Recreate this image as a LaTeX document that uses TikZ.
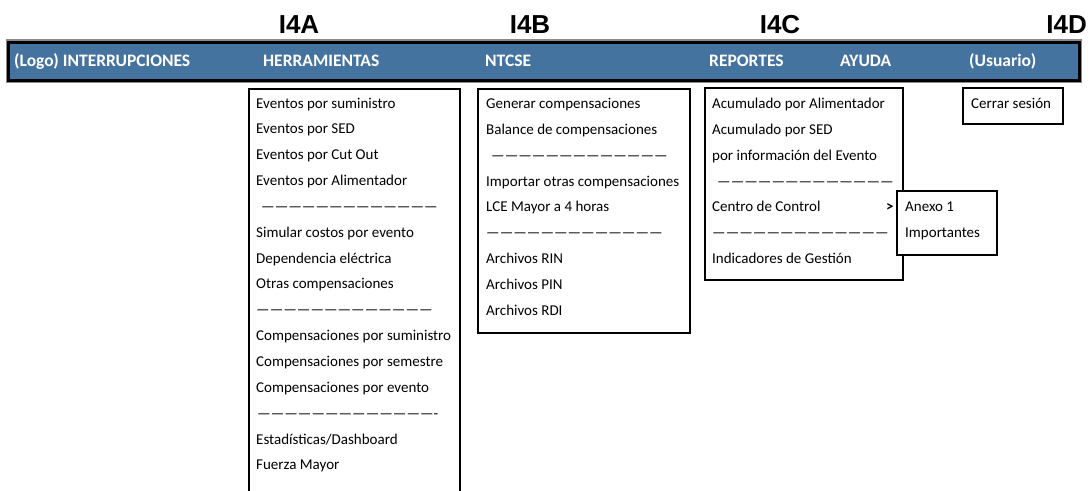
\documentclass[tikz,border=0pt]{standalone}
\usepackage{fontspec}
\setmainfont{Carlito}
\newfontfamily\headfont{Liberation Sans}
\definecolor{barblue}{HTML}{4573A0}
\definecolor{bargrey}{HTML}{8A8A8A}
\newcommand{\itemfont}{\fontsize{15}{18}\selectfont}
\newcommand{\barfont}{\bfseries\fontsize{17.5}{20}\selectfont}
\newcommand{\sepline}{—————————————}
\begin{document}
\begin{tikzpicture}[x=1pt,y=-1pt,
  item/.style={anchor=base west, inner sep=0pt, font=\itemfont},
  barlabel/.style={anchor=base west, inner sep=0pt, text=white, font=\barfont},
  head/.style={anchor=base, inner sep=0pt, font=\headfont\bfseries\fontsize{26}{30}\selectfont},
  menubox/.style={draw=black, line width=1.1pt},
]
\useasboundingbox (0,0) rectangle (1091,490);
% headings
\node[head] (hA) at (299,33) {I4A};
\node[head] (hB) at (530,33) {I4B};
\node[head] (hC) at (780,33) {I4C};
\node[head, anchor=base east] (hD) at (1087,33) {I4D};
% bar
\draw[bargrey, line width=1.2pt] (6.5,40) rectangle (1081.5,82);
\draw[fill=barblue, draw=black, line width=3pt] (8.5,42) rectangle (1079.5,80);
\node[barlabel] (bLogo) at (14,66) {(Logo) INTERRUPCIONES};
\node[barlabel] (bHerr) at (263,66) {HERRAMIENTAS};
\node[barlabel] (bNtc) at (485,66) {NTCSE};
\node[barlabel] (bRep) at (709,66) {REPORTES};
\node[barlabel] (bAyu) at (840,66) {AYUDA};
\node[barlabel] (bUsu) at (969,66) {(Usuario)};
% boxes
\draw[menubox] (249,495) -- (249,89) -- (460,89) -- (460,495);
\draw[menubox] (478,89) rectangle (690,333);
\draw[menubox] (705,88) rectangle (903,280);
\draw[menubox, fill=white] (897,191) rectangle (997,255);
\draw[menubox] (963,88) rectangle (1063,124);
% HERRAMIENTAS items
\def\rowpitch{25.85}
\foreach \i/\xx/\t in {0/256/{Eventos por suministro},
  1/256/{Eventos por SED},
  2/256/{Eventos por Cut Out},
  3/256/{Eventos por Alimentador},
  4/261/{\sepline},
  5/256/{Simular costos por evento},
  6/256/{Dependencia eléctrica},
  7/256/{Otras compensaciones},
  8/256/{\sepline},
  9/256/{Compensaciones por suministro},
  10/256/{Compensaciones por semestre},
  11/256/{Compensaciones por evento},
  12/257/{\sepline-},
  13/256/{Estadísticas/Dashboard},
  14/256/{Fuerza Mayor}}
  \node[item] (h\i) at (\xx,108+\rowpitch*\i) {\t};
% NTCSE items
\foreach \i/\xx/\t in {0/486/{Generar compensaciones},
  1/486/{Balance de compensaciones},
  2/491/{\sepline},
  3/486/{Importar otras compensaciones},
  4/486/{LCE Mayor a 4 horas},
  5/486/{\sepline},
  6/486/{Archivos RIN},
  7/486/{Archivos PIN},
  8/486/{Archivos RDI}}
  \node[item] (n\i) at (\xx,108.5+\rowpitch*\i) {\t};
% REPORTES items
\foreach \i/\xx/\t in {0/712/{Acumulado por Alimentador},
  1/712/{Acumulado por SED},
  2/712/{por información del Evento},
  3/717/{\sepline},
  4/712/{Centro de Control},
  5/712/{\sepline},
  6/712/{Indicadores de Gestión}}
  \node[item] (r\i) at (\xx,108.5+\rowpitch*\i) {\t};
\node[item, font=\itemfont\bfseries] (rArrow) at (886,108.5+\rowpitch*4) {>};
\node[item] (s1) at (905,108.5+\rowpitch*4) {Anexo 1};
\node[item] (s2) at (905,108.5+\rowpitch*5) {Importantes};
\node[item] (u1) at (971,108.5) {Cerrar sesión};
\end{tikzpicture}
\end{document}
